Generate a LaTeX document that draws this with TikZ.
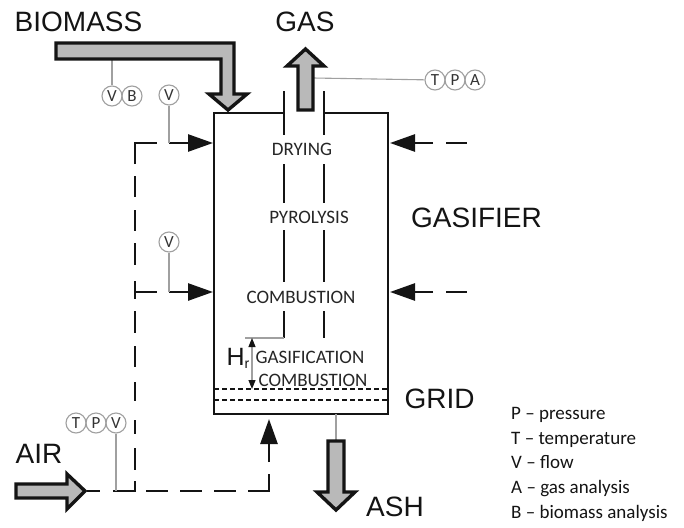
\documentclass[tikz,border=0pt]{standalone}
\usepackage{fontspec}
\setmainfont{Liberation Sans}
\newfontfamily\calib{Carlito}
\usetikzlibrary{arrows.meta}
\definecolor{flowgray}{HTML}{B9B9B9}
\definecolor{ink}{HTML}{141414}
\definecolor{leadgray}{HTML}{A0A0A0}
\tikzset{
  x=1pt,y=-1pt,
  flow/.style={draw=ink,fill=flowgray,line width=3.4pt,miter limit=10,line join=miter},
  wall/.style={draw=ink,line width=2.6pt},
  duct/.style={draw=ink,line width=2.6pt},
  airseg/.style={draw=ink,line width=2.6pt},
  airtip/.style={draw=ink,line width=2.6pt,-{Triangle[length=25pt,width=17pt]}},
  grate/.style={draw=ink,line width=2.2pt,dash pattern=on 5pt off 3pt},
  lead/.style={draw=leadgray,line width=1.1pt},
  probe/.style={circle,draw=leadgray,line width=1.1pt,minimum size=20pt,inner sep=0pt,font=\calib\fontsize{17}{17}\selectfont,text=black!80},
  biglabel/.style={inner sep=0pt,text=ink,font=\fontsize{28}{28}\selectfont},
  zone/.style={inner sep=0pt,text=black!85,font=\calib\fontsize{19}{20}\selectfont},
  legend/.style={inner sep=0pt,anchor=base west,text=ink,font=\calib\fontsize{19}{20}\selectfont},
}
\begin{document}
\begin{tikzpicture}
\path[use as bounding box,fill=white] (0,0) rectangle (684,527);

% labels
\node[biglabel] (biomass) at (78.5,22) {BIOMASS};
\node[biglabel] (gas) at (305,22) {GAS};
\node[biglabel] (gasifier) at (476.5,218) {GASIFIER};
\node[biglabel] (air) at (39,454) {AIR};
\node[biglabel] (grid) at (439.5,399) {GRID};
\node[biglabel] (ash) at (395,507) {ASH};

% reactor
\draw[wall] (284,113) -- (214,113) -- (214,414) -- (388,414) -- (388,113) -- (324,113);
\foreach \a/\b in {91/135,164/203,230/282,311/338}{
  \draw[duct] (284,\a) -- (284,\b);
}
\foreach \a/\b in {91/135,164/203,230/282,311/338}{
  \draw[duct] (324,\a) -- (324,\b);
}
\coordinate (gridAl) at (214,389); \coordinate (gridAr) at (388,389);
\coordinate (gridBl) at (214,400); \coordinate (gridBr) at (388,400);
\draw[grate] (gridAl) -- (gridAr);
\draw[grate] (gridBl) -- (gridBr);

% zones
\node[zone] (drying) at (302,149.5) {DRYING};
\node[zone] (pyrolysis) at (309,217) {PYROLYSIS};
\node[zone] (comb1) at (301,297) {COMBUSTION};
\node[zone] (gasif) at (310,357) {GASIFICATION};
\node[zone] (comb2) at (313,380) {COMBUSTION};

% reaction height
\coordinate (hrL) at (245,338); \coordinate (hrR) at (284,338);
\coordinate (hrT) at (252,338); \coordinate (hrB) at (252,389);
\draw[lead] (hrL) -- (hrR);
\draw[leadgray,line width=1.1pt,{Triangle[length=9pt,width=7pt,color=ink]}-{Triangle[length=9pt,width=7pt,color=ink]}] (hrT) -- (hrB);
\node[inner sep=0pt,text=ink,font=\fontsize{25}{25}\selectfont] (hr) at (238,358) {H\raisebox{-3pt}{\fontsize{14}{14}\selectfont r}};

% air ducts
\coordinate (airTip) at (87,491);
\coordinate (jA) at (135,491);
\coordinate (jB) at (135,292);
\coordinate (corner) at (135,143);
\coordinate (corner2) at (269,491);
\draw[airseg] (airTip) -- (100,491);
\draw[airseg] (113,491) -- (jA) -- (135,481);
\foreach \a/\b in {146/168,180/202,214/236}{
  \draw[airseg] (\a,491) -- (\b,491);
}
\draw[airseg] (248,491) -- (corner2) -- (269,474);
\foreach \a/\b in {448/470,420/434,382/401,346/367,311/333,281/299,243/265,210/231,176/197}{
  \draw[airseg] (135,\a) -- (135,\b);
}
\draw[airseg] (135,164) -- (corner) -- (157,143);
\draw[airseg] (jB) -- (157,292);
\coordinate (inA) at (213,143); \coordinate (inB) at (213,292);
\coordinate (inC) at (390,143); \coordinate (inD) at (390,292);
\coordinate (inE) at (269,419);
\draw[airtip] (169,143) -- (inA);
\draw[airtip] (169,292) -- (inB);
\draw[airtip] (433,143) -- (inC);
\draw[airtip] (433,292) -- (inD);
\draw[airtip] (269,462) -- (inE);
\draw[airseg] (446,143) -- (467,143);
\draw[airseg] (446,292) -- (467,292);

% probes
\node[probe] (pV1) at (112,96) {V};
\node[probe] (pB1) at (132,96) {B};
\node[probe] (pV2) at (169,95) {V};
\node[probe] (pV3) at (169,242) {V};
\node[probe] (pT) at (435,80) {T};
\node[probe] (pP) at (455,80) {P};
\node[probe] (pA) at (475,80) {A};
\node[probe] (pT2) at (76,423) {T};
\node[probe] (pP2) at (96,423) {P};
\node[probe] (pV4) at (116,423) {V};

\coordinate (bioTap) at (112,60);
\coordinate (inAtap) at (169,143);
\coordinate (inBtap) at (169,292);
\coordinate (gasTap) at (313,78);
\coordinate (airTap) at (116,491);
\coordinate (ashTop) at (336,414);
\coordinate (ashIn) at (336,440);
\draw[lead] (bioTap) -- (pV1);
\draw[lead] (pV2) -- (inAtap);
\draw[lead] (pV3) -- (inBtap);
\draw[lead] (gasTap) -- (pT);
\draw[lead] (pV4) -- (airTap);
\draw[lead] (ashTop) -- (ashIn);

% material flows
\draw[flow] (56,43) -- (234,43) -- (234,94) -- (247,94) -- (228,110) -- (209,94) -- (221,94) -- (221,59) -- (56,59) -- cycle;
\draw[flow] (298,110) -- (298,66) -- (287,66) -- (305.5,49) -- (324,66) -- (313,66) -- (313,110) -- cycle;
\draw[flow] (16,484) -- (67,484) -- (67,474) -- (85,491) -- (67,509) -- (67,498) -- (16,498) -- cycle;
\draw[flow] (328,441) -- (344,441) -- (344,492) -- (355,492) -- (336,510) -- (317,492) -- (328,492) -- cycle;

% legend
\node[legend] (l1) at (511,419) {P – pressure};
\node[legend] (l2) at (511,444) {T – temperature};
\node[legend] (l3) at (511,468) {V – flow};
\node[legend] (l4) at (511,493) {A – gas analysis};
\node[legend] (l5) at (511,518) {B – biomass analysis};
\end{tikzpicture}
\end{document}
